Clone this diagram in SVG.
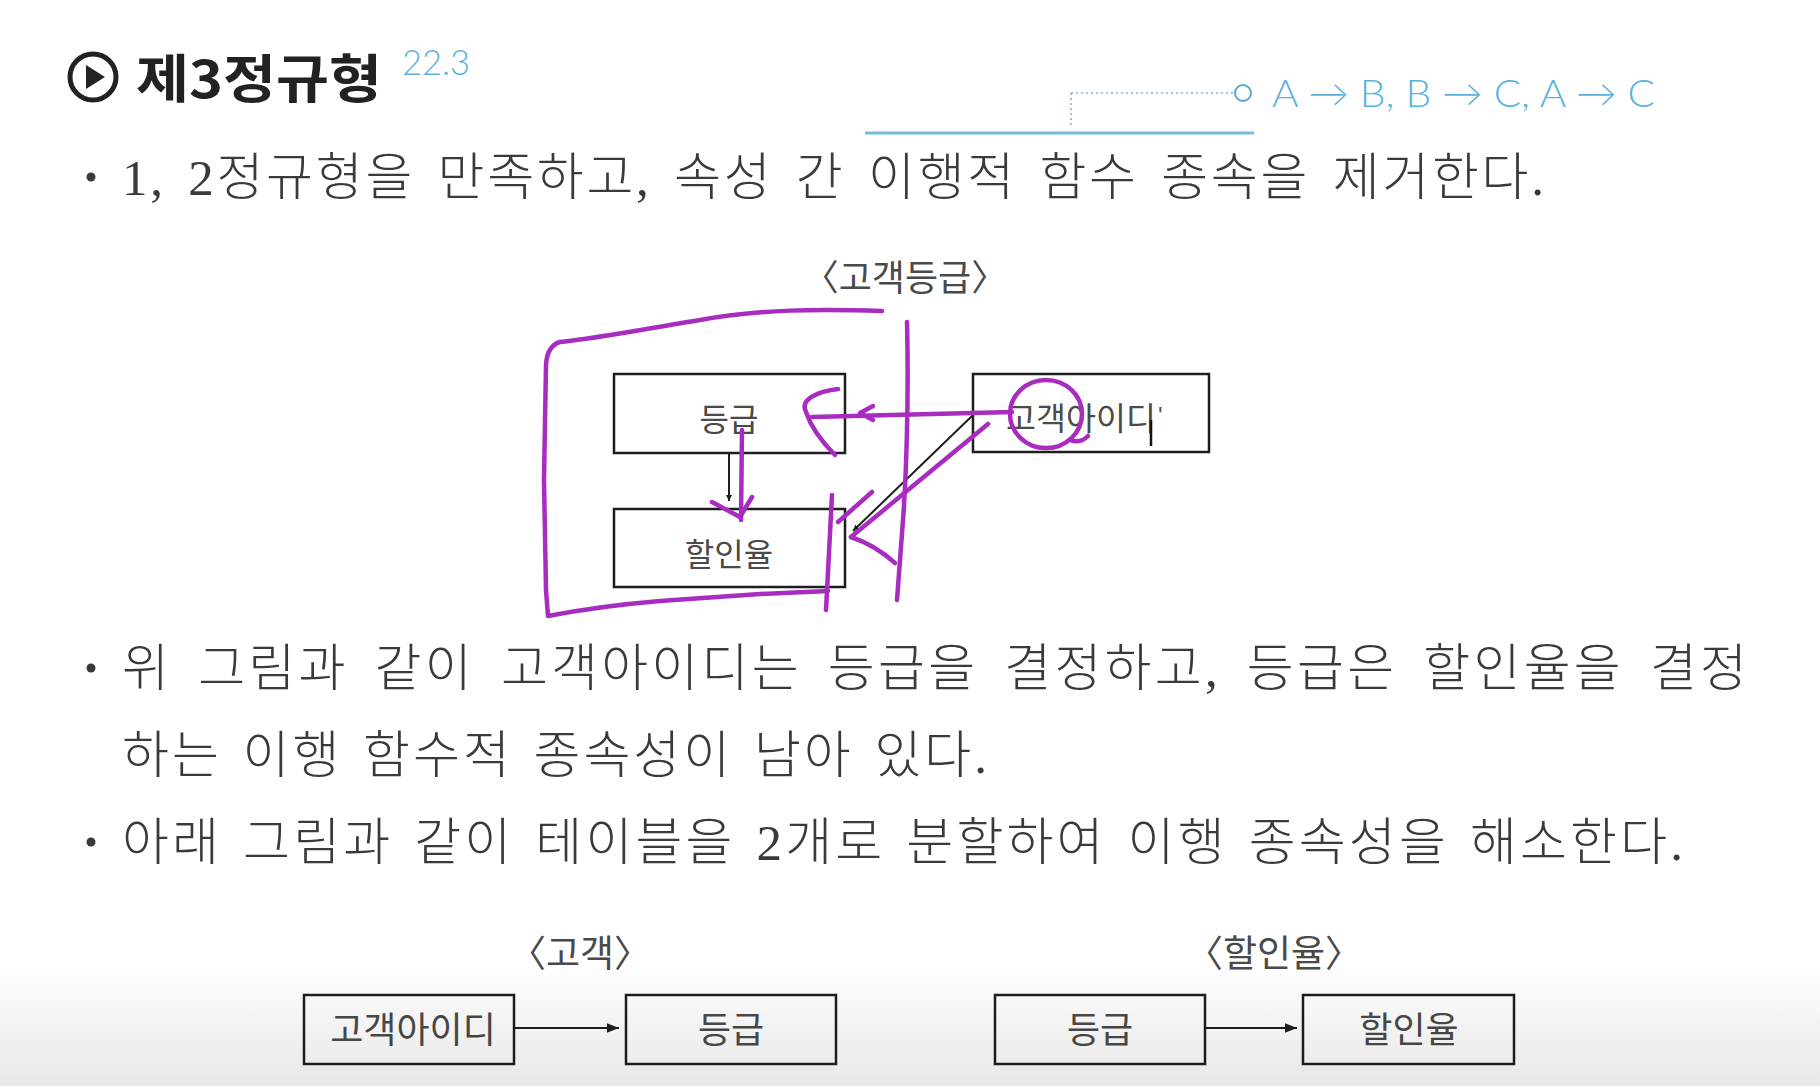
<svg xmlns="http://www.w3.org/2000/svg" width="1820" height="1086" viewBox="0 0 1820 1086">
<style>
.body{font-family:"Liberation Serif","Noto Sans CJK KR",serif;font-size:51px;fill:#3a3a3a;font-weight:300}
.lbl{font-family:"Noto Sans CJK KR","Liberation Sans",sans-serif;fill:#4a4a4a;text-anchor:middle}
.box{fill:#fff;stroke:#1e1e1e;stroke-width:2.5}
.blk{fill:none;stroke:#1e1e1e;stroke-width:2}
.mg{fill:none;stroke:#a82cc0;stroke-width:4.5;stroke-linecap:round;stroke-linejoin:round}
.blue{fill:#5bb2de;font-family:"Lato","Liberation Sans",sans-serif;font-weight:300}
</style>
<defs>
<marker id="ah" viewBox="0 0 10 10" refX="10" refY="5" markerWidth="6" markerHeight="6" orient="auto" markerUnits="userSpaceOnUse">
<path d="M0,0 L10,5 L0,10 z" fill="#1e1e1e"/>
</marker>
<marker id="ah2" viewBox="0 0 10 10" refX="10" refY="5" markerWidth="12" markerHeight="12" orient="auto" markerUnits="userSpaceOnUse">
<path d="M0,1 L10,5 L0,9 z" fill="#1e1e1e"/>
</marker>
<linearGradient id="shade" x1="0" y1="0" x2="0" y2="1">
<stop offset="0" stop-color="#000" stop-opacity="0"/>
<stop offset="1" stop-color="#000" stop-opacity="0.09"/>
</linearGradient>
</defs>
<rect width="1820" height="1086" fill="#ffffff"/>

<g id="title">
<circle cx="93" cy="77" r="23" fill="none" stroke="#222" stroke-width="5"/>
<path d="M86,65 L86,89 L105,77 z" fill="#222"/>
<text x="136" y="98" font-family="'Noto Sans CJK KR',sans-serif" font-weight="700" font-size="52" fill="#222" textLength="246" lengthAdjust="spacingAndGlyphs">제3정규형</text>
<text x="402" y="75" class="blue" font-size="36" font-weight="400" fill="#45a6da" textLength="68" lengthAdjust="spacingAndGlyphs">22.3</text>
</g>

<g id="note">
<path d="M1071,93 L1235,93 M1071,93 L1071,126" fill="none" stroke="#7ab8d8" stroke-width="1.6" stroke-dasharray="2,3"/>
<circle cx="1243" cy="93" r="8" fill="none" stroke="#5aa8d0" stroke-width="2"/>
<text x="1272" y="107" class="blue" font-size="38" textLength="383" lengthAdjust="spacingAndGlyphs">A → B, B → C, A → C</text>
<line x1="865" y1="133" x2="1254" y2="133" stroke="#6ec0de" stroke-width="3"/>
</g>

<g id="para">
<circle cx="91" cy="177" r="4.5" fill="#3a3a3a"/>
<text x="122" y="195" class="body" word-spacing="7" textLength="1422" lengthAdjust="spacing">1, 2정규형을 만족하고, 속성 간 이행적 함수 종속을 제거한다.</text>
<circle cx="91" cy="668" r="4.5" fill="#3a3a3a"/>
<text x="122" y="686" class="body" word-spacing="10" textLength="1625" lengthAdjust="spacing">위 그림과 같이 고객아이디는 등급을 결정하고, 등급은 할인율을 결정</text>
<text x="122" y="773" class="body" word-spacing="5" textLength="865" lengthAdjust="spacing">하는 이행 함수적 종속성이 남아 있다.</text>
<circle cx="91" cy="842" r="4.5" fill="#3a3a3a"/>
<text x="122" y="860" class="body" word-spacing="5" textLength="1561" lengthAdjust="spacing">아래 그림과 같이 테이블을 2개로 분할하여 이행 종속성을 해소한다.</text>
</g>

<g id="diagram1-title"><text x="905" y="291" class="lbl" font-size="36">〈고객등급〉</text></g>

<g id="node-grade1">
<rect x="614" y="374" width="231" height="79" class="box"/>
<text x="729" y="431" class="lbl" font-size="32">등급</text>
</g>
<g id="node-rate1">
<rect x="614" y="509" width="231" height="78" class="box"/>
<text x="729" y="566" class="lbl" font-size="32">할인율</text>
</g>
<g id="node-cust1">
<rect x="973" y="374" width="236" height="78" class="box"/>
<text x="1006" y="430" font-family="'Noto Sans CJK KR',sans-serif" font-size="32" fill="#4a4a4a" textLength="150" lengthAdjust="spacingAndGlyphs">고객아이디</text>
<text x="1158" y="424" font-family="'Liberation Sans',sans-serif" font-size="24" fill="#555">'</text>
<line x1="1151" y1="420" x2="1151" y2="446" stroke="#111" stroke-width="2.5"/>
</g>

<g id="diagram2-title"><text x="580" y="967" class="lbl" font-size="37">〈고객〉</text></g>
<g id="node-cust2">
<rect x="304" y="995" width="210" height="69" class="box"/>
<text x="413" y="1043" class="lbl" font-size="36">고객아이디</text>
</g>
<g id="node-grade2">
<rect x="626" y="995" width="210" height="69" class="box"/>
<text x="731" y="1043" class="lbl" font-size="36">등급</text>
</g>
<g id="diagram3-title"><text x="1274" y="967" class="lbl" font-size="37">〈할인율〉</text></g>
<g id="node-grade3">
<rect x="995" y="995" width="210" height="69" class="box"/>
<text x="1100" y="1043" class="lbl" font-size="36">등급</text>
</g>
<g id="node-rate3">
<rect x="1303" y="995" width="211" height="69" class="box"/>
<text x="1409" y="1043" class="lbl" font-size="36">할인율</text>
</g>

<g id="connectors">
<line x1="729" y1="453" x2="729" y2="501" class="blk" marker-end="url(#ah)"/>
<line x1="973" y1="415" x2="853" y2="531" class="blk" marker-end="url(#ah)"/>
<line x1="514" y1="1028" x2="619" y2="1028" class="blk" marker-end="url(#ah2)"/>
<line x1="1205" y1="1028" x2="1297" y2="1028" class="blk" marker-end="url(#ah2)"/>
</g>

<g id="handwriting">
<path class="mg" d="M882,311 C820,309 760,309 700,320 C650,328 600,338 560,342 Q547,346 546,365 L544,480 L546,590 L548,616 Q600,606 660,601 L760,594 L828,591"/>
<path class="mg" d="M907,322 C909,400 906,480 903,520 L897,600"/>
<path class="mg" d="M832,495 L826,610"/>
<path class="mg" d="M1012,412 L812,417"/>
<path class="mg" stroke-width="3.5" d="M873,406 L860,413 L873,420"/>
<path class="mg" d="M838,389 C815,392 800,400 806,412 C812,430 825,445 835,455"/>
<ellipse class="mg" stroke-width="4" cx="1046" cy="414" rx="36" ry="34"/>
<path class="mg" stroke-width="3" d="M1070,440 Q1080,444 1088,436"/>
<path class="mg" d="M988,424 L851,537"/>
<path class="mg" stroke-width="3" d="M872,492 L838,522"/>
<path class="mg" stroke-width="3.5" d="M851,537 Q875,545 895,563"/>
<path class="mg" d="M742,430 L741,520"/>
<path class="mg" stroke-width="3.5" d="M712,502 L740,517 L752,497"/>
</g>

<rect x="0" y="960" width="1820" height="126" fill="url(#shade)"/>
</svg>
